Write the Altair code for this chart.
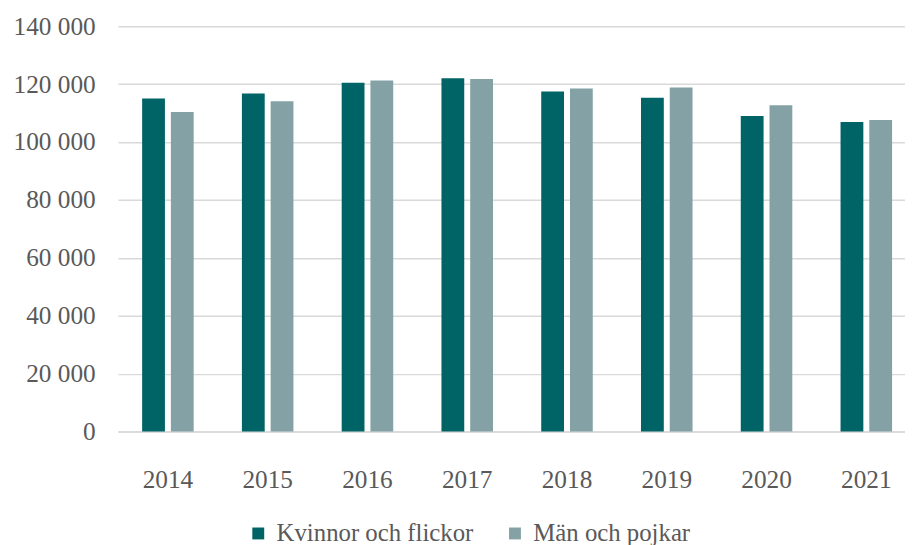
import altair as alt
import pandas as pd

years = ["2014", "2015", "2016", "2017", "2018", "2019", "2020", "2021"]
series = ["Kvinnor och flickor", "Män och pojkar"]
kvinnor = [115000, 116800, 120500, 122000, 117500, 115300, 109000, 106900]
man = [110400, 114100, 121300, 121800, 118500, 118800, 112700, 107600]
y_ticks = [0, 20000, 40000, 60000, 80000, 100000, 120000, 140000]
colors = ["#006366", "#84A2A5"]

rows = []
for i, yr in enumerate(years):
    rows.append({"year": yr, "series": series[0], "value": kvinnor[i]})
    rows.append({"year": yr, "series": series[1], "value": man[i]})
df = pd.DataFrame(rows)

FONT = "Liberation Serif"
TXT = "#595959"
GRID = "#d9d9d9"

chart = alt.Chart(df).mark_bar().encode(
    x=alt.X(
        "year:N",
        sort=years,
        scale=alt.Scale(range=[0, 805.3], paddingInner=0, paddingOuter=0),
        axis=alt.Axis(
            title=None, labelAngle=0, ticks=False, domainColor=GRID, domainWidth=1.5,
            labelPadding=36, labelFontSize=25.5, labelColor=TXT, labelFont=FONT,
        ),
    ),
    xOffset=alt.XOffset(
        "series:N",
        sort=series,
        scale=alt.Scale(domain=series, paddingInner=0.2069, paddingOuter=0.839),
    ),
    y=alt.Y(
        "value:Q",
        scale=alt.Scale(domain=[0, 140000], nice=False),
        axis=alt.Axis(
            title=None, values=y_ticks, domain=False, ticks=False,
            gridColor=GRID, gridWidth=1.5,
            labelExpr="replace(format(datum.value, ','), ',', ' ')",
            labelPadding=23, labelFontSize=25.5, labelColor=TXT, labelFont=FONT,
        ),
    ),
    color=alt.Color(
        "series:N",
        sort=series,
        scale=alt.Scale(domain=series, range=colors),
        legend=alt.Legend(
            title=None, orient="none", legendX=129, legendY=499,
            direction="horizontal", symbolType="square", symbolSize=144,
            symbolStrokeWidth=0, labelFontSize=25, labelFont=FONT, labelColor=TXT,
            labelOffset=6, columnPadding=29, padding=0, labelLimit=0,
        ),
    ),
).properties(
    width=794,
    height=409,
    autosize=alt.AutoSizeParams(type="none"),
    padding={"left": 111, "top": 16, "right": 0, "bottom": 112},
).configure_view(stroke=None)

chart.save("out.html", embed_options={"renderer": "svg", "actions": False})
